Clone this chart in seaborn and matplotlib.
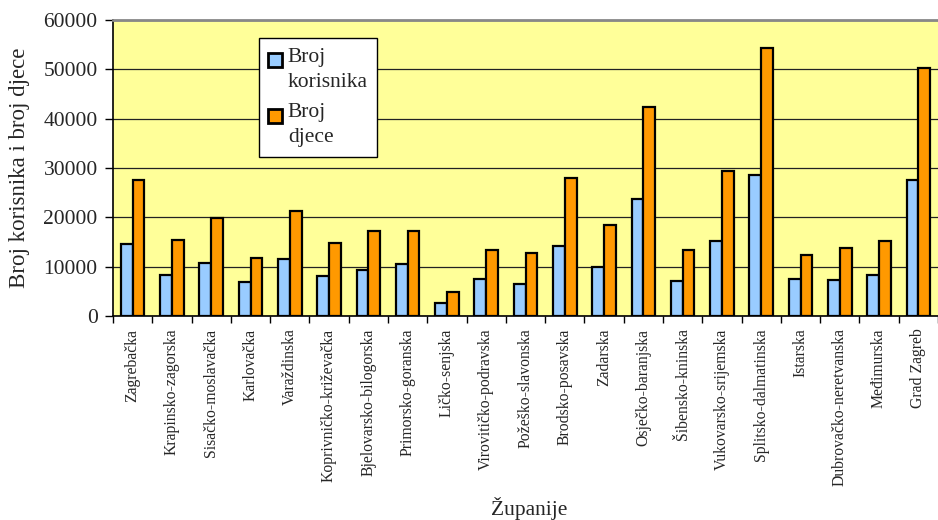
import pandas as pd
import matplotlib.pyplot as plt
import seaborn as sns
from matplotlib.patches import Rectangle
from matplotlib.legend_handler import HandlerPatch

zupanije = ['Zagrebačka', 'Krapinsko-zagorska', 'Sisačko-moslavačka', 'Karlovačka',
            'Varaždinska', 'Koprivničko-križevačka', 'Bjelovarsko-bilogorska',
            'Primorsko-goranska', 'Ličko-senjska', 'Virovitičko-podravska',
            'Požeško-slavonska', 'Brodsko-posavska', 'Zadarska', 'Osječko-baranjska',
            'Šibensko-kninska', 'Vukovarsko-srijemska', 'Splitsko-dalmatinska',
            'Istarska', 'Dubrovačko-neretvanska', 'Međimurska', 'Grad Zagreb']
korisnici = [14500, 8250, 10700, 6800, 11600, 8100, 9300, 10550, 2600, 7450,
             6500, 14250, 9900, 23650, 7100, 15200, 28600, 7550, 7300, 8250, 27600]
djeca = [27600, 15400, 19800, 11800, 21350, 14850, 17300, 17250, 4850, 13450,
         12850, 27900, 18400, 42450, 13400, 29400, 54350, 12350, 13800, 15250, 50250]

df = pd.DataFrame({'zupanija': zupanije, 'Broj korisnika': korisnici, 'Broj djece': djeca})
df = df.melt(id_vars='zupanija', var_name='serija', value_name='broj')

sns.set_theme(style="ticks")
plt.rcParams['font.family'] = ['Liberation Serif', 'DejaVu Serif']

fig = plt.figure(figsize=(9.38, 5.2), dpi=100)
ax = fig.add_axes([113/938, 1 - 316/520, 825/938, 296/520])
ax.set_facecolor('#FFFF99')

sns.barplot(data=df, x='zupanija', y='broj', hue='serija',
            palette=['#99CCFF', '#FF9900'], saturation=1, width=0.6,
            edgecolor='black', linewidth=1.6, ax=ax)

ax.set_ylim(0, 60000)
ax.set_xlim(-0.5, len(zupanije) - 0.5)
ax.set_yticks(range(0, 60001, 10000))
ax.set_axisbelow(True)
ax.yaxis.grid(True, color='#222222', linewidth=0.9)

# x ticks between categories
ax.set_xticks([i - 0.5 for i in range(len(zupanije) + 1)], minor=True)
ax.tick_params(axis='x', which='major', length=0, pad=9)
ax.tick_params(axis='x', which='minor', length=5, width=1, color='black', direction='out')
ax.tick_params(axis='y', length=6, width=1, color='black', direction='out', labelsize=15.5, pad=5)
plt.setp(ax.get_xticklabels(), rotation=90, fontsize=11.3)

for s in ['left', 'bottom']:
    ax.spines[s].set_color('black')
    ax.spines[s].set_linewidth(1.2)
ax.spines['top'].set_visible(True)
ax.spines['top'].set_color('#888888')
ax.spines['top'].set_linewidth(2)
ax.spines['right'].set_visible(False)

ax.set_xlabel('Županije', fontsize=15.5)
ax.xaxis.set_label_coords(0.505, -0.61)
ax.set_ylabel('Broj korisnika i broj djece', fontsize=16.5, labelpad=10)


# legend square sits on the first text line, like in the original
def gornji_kvadrat(legend, orig_handle, xdescent, ydescent, width, height, fontsize):
    a = width
    return Rectangle((-xdescent, -ydescent + height - a), a, a)


handles, labels = ax.get_legend_handles_labels()
for h in handles:
    h.set_linewidth(2)
leg = ax.legend(handles, ['Broj\nkorisnika', 'Broj\ndjece'], loc='upper left',
                bbox_to_anchor=(0.1766, 0.938), fontsize=15.5, frameon=True,
                fancybox=False, framealpha=1, edgecolor='black',
                handlelength=0.65, handleheight=2.0, handletextpad=0.25,
                labelspacing=0.55, borderpad=0.45, borderaxespad=0,
                handler_map={h: HandlerPatch(patch_func=gornji_kvadrat) for h in handles})
leg.get_frame().set_linewidth(1)
for t in leg.get_texts():
    t.set_linespacing(1.4)

fig.savefig('out.png', dpi=100)
